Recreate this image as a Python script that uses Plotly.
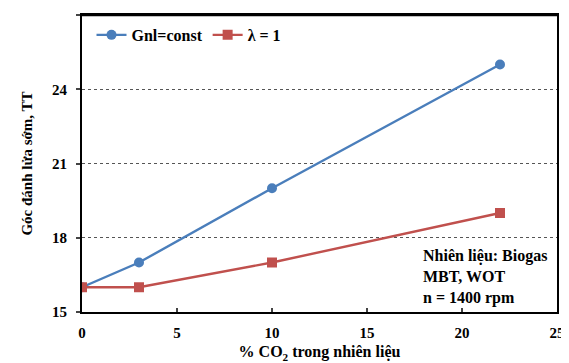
import plotly.graph_objects as go

co2 = [0, 3, 10, 22]
gnl_const = [16, 17, 20, 25]
lambda_1 = [16, 16, 17, 19]
x_ticks = [0, 5, 10, 15, 20, 25]
y_ticks = [15, 18, 21, 24, 27]

FONT = "Liberation Serif, Times New Roman, DejaVu Serif, serif"
BLUE = "#4a7ebb"
RED = "#c0504d"


def f(size):
    return dict(family=FONT, size=size, color="black", weight="bold")


fig = go.Figure()
fig.add_trace(go.Scatter(x=co2, y=gnl_const, mode="lines+markers", name="Gnl=const",
                         line=dict(color=BLUE, width=2.4),
                         marker=dict(symbol="circle", size=10, color=BLUE)))
fig.add_trace(go.Scatter(x=co2, y=lambda_1, mode="lines+markers", name="λ = 1",
                         line=dict(color=RED, width=2.4),
                         marker=dict(symbol="square", size=10, color=RED)))

# the page body adds an 8px offset, so the figure is sized to fill the rest of the window
fig.update_layout(
    width=561, height=355,
    margin=dict(l=74, r=12, t=7, b=51),
    plot_bgcolor="white", paper_bgcolor="white",
    font=f(15),
    showlegend=True,
    legend=dict(orientation="h", x=0.02, y=0.99, xanchor="left", yanchor="top",
                bgcolor="rgba(0,0,0,0)", font=f(16),
                itemwidth=30, tracegroupgap=0),
    xaxis=dict(range=[0, 25], tickvals=x_ticks, ticks="inside", ticklen=4, tickwidth=1.5,
               showline=True, linecolor="black", linewidth=2, mirror=True,
               showgrid=False, zeroline=False, automargin=False,
               tickfont=f(15), ticklabelstandoff=6,
               title=dict(text="% CO<sub>2</sub> trong nhiên liệu", standoff=6, font=f(16))),
    yaxis=dict(range=[15, 27], tickvals=y_ticks, ticks="outside", ticklen=4, tickwidth=1.5,
               showline=True, linecolor="black", linewidth=2, mirror=True,
               showgrid=True, gridcolor="#555555", griddash="dot", gridwidth=1,
               zeroline=False, automargin=False,
               tickfont=f(15), ticklabelstandoff=6,
               title=dict(text="Góc đánh lửa sớm, TT", standoff=16, font=f(15))),
    shapes=[dict(type="line", xref="paper", yref="y", x0=0, x1=1, y0=27, y1=27,
                 line=dict(color="black", width=2.5), layer="above")],
)

fig.add_annotation(x=0.714, y=0.01, xref="paper", yref="paper", xanchor="left", yanchor="bottom",
                   align="left", showarrow=False,
                   text="Nhiên liệu: Biogas<br>MBT, WOT<br>n = 1400 rpm",
                   font=f(16))

fig.write_html("out.html")
